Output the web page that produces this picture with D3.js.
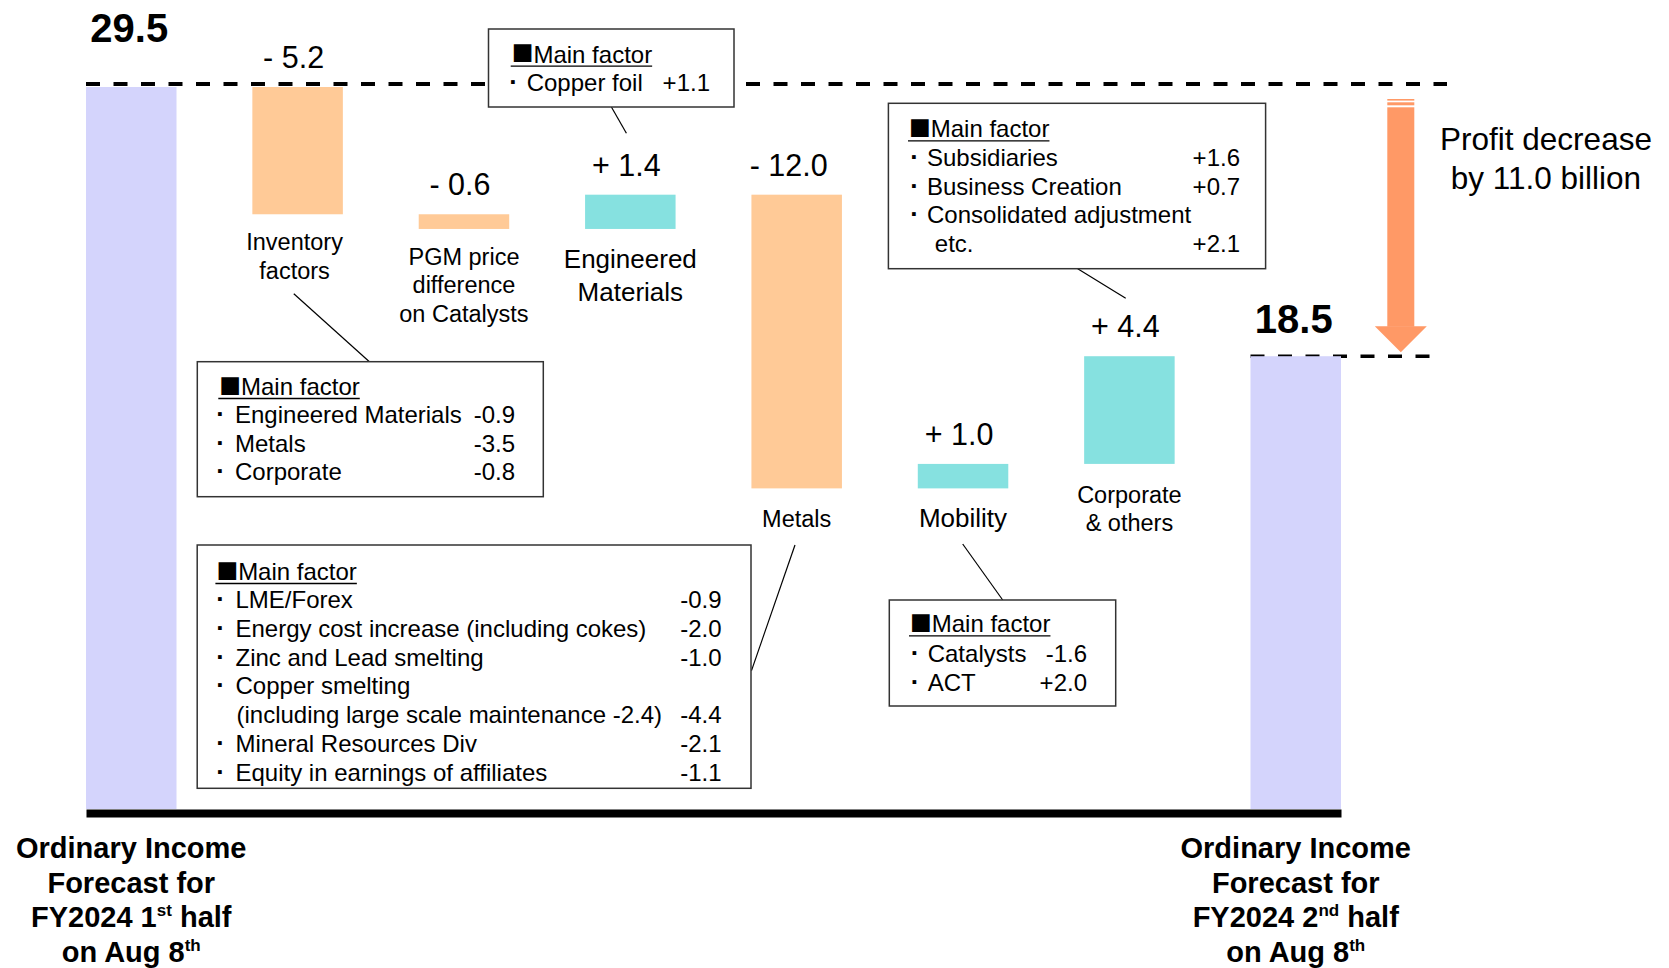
<!DOCTYPE html>
<html><head><meta charset="utf-8">
<script src="https://cdn.jsdelivr.net/npm/d3@7"></script>
<style>
html,body{margin:0;padding:0;background:#fff;}
svg{display:block;}
text{font-family:"Liberation Sans",Arial,Helvetica,sans-serif;fill:#000;}
</style>
</head><body>
<svg id="chart" width="1669" height="968"></svg>
<script>
// ---------------- DATA ----------------
const categories = ["Start", "Inventory factors", "PGM price difference on Catalysts", "Engineered Materials", "Metals", "Mobility", "Corporate & others", "End"];
const categoryLines = [
  null,
  ["Inventory", "factors"],
  ["PGM price", "difference", "on Catalysts"],
  ["Engineered", "Materials"],
  ["Metals"],
  ["Mobility"],
  ["Corporate", "& others"],
  null
];
const values = [29.5, -5.2, -0.6, 1.4, -12.0, 1.0, 4.4, 18.5];
const barTypes = ["total", "delta", "delta", "delta", "delta", "delta", "delta", "total"];
const totalLabelLines = [
  [[["Ordinary Income"]], [["Forecast for"]], [["FY2024 1"], ["st", "sup"], [" half"]], [["on Aug 8"], ["th", "sup"]]],
  [[["Ordinary Income"]], [["Forecast for"]], [["FY2024 2"], ["nd", "sup"], [" half"]], [["on Aug 8"], ["th", "sup"]]]
];
const factorsCopperFoil = [{item: "Copper foil", value: "+1.1"}];
const factorsInventory = [
  {item: "Engineered Materials", value: "-0.9"},
  {item: "Metals", value: "-3.5"},
  {item: "Corporate", value: "-0.8"}
];
const factorsMetals = [
  {item: "LME/Forex", value: "-0.9"},
  {item: "Energy cost increase (including cokes)", value: "-2.0"},
  {item: "Zinc and Lead smelting", value: "-1.0"},
  {item: "Copper smelting", value: ""},
  {item: "(including large scale maintenance -2.4)", value: "-4.4", cont: true},
  {item: "Mineral Resources Div", value: "-2.1"},
  {item: "Equity in earnings of affiliates", value: "-1.1"}
];
const factorsCorporate = [
  {item: "Subsidiaries", value: "+1.6"},
  {item: "Business Creation", value: "+0.7"},
  {item: "Consolidated adjustment", value: ""},
  {item: "etc.", value: "+2.1", cont: true}
];
const factorsMobility = [
  {item: "Catalysts", value: "-1.6"},
  {item: "ACT", value: "+2.0"}
];
const factorMark = "\u25A0";
const factorTitle = "Main factor";
const bulletMark = "\u00B7";

// ---------------- STYLE / LAYOUT ----------------
const colors = {total: "#D4D4FC", neg: "#FFCA97", pos: "#86E1E0", arrow: "#FF9966"};

const svg = d3.select("#chart");
const x = d3.scaleBand().domain(categories).range([86, 1341]).paddingInner(0.456).paddingOuter(0);
const y = d3.scaleLinear().domain([0, 29.5]).range([809, 87]);
const cx = c => x(c) + x.bandwidth() / 2;

// waterfall extents
let run = 0;
const bars = categories.map((c, i) => {
  const v = values[i];
  let lo, hi;
  if (barTypes[i] === "total") { lo = 0; hi = v; run = v; }
  else { const prev = run; run = +(run + v).toFixed(4); lo = Math.min(prev, run); hi = Math.max(prev, run); }
  return {c, i, v, lo, hi, type: barTypes[i]};
});

// dashed reference lines
const startTop = y(values[0]);
const endTop = y(values[7]);
svg.append("line").attr("x1", x(categories[0])).attr("x2", 1447)
  .attr("y1", startTop - 3).attr("y2", startTop - 3)
  .attr("stroke", "#000").attr("stroke-width", 4).attr("stroke-dasharray", "14 13.5");
svg.append("line").attr("x1", x(categories[7])).attr("x2", 1432)
  .attr("y1", endTop).attr("y2", endTop)
  .attr("stroke", "#000").attr("stroke-width", 3.4).attr("stroke-dasharray", "14 13.5");

// bars
svg.append("g").selectAll("rect").data(bars).join("rect")
  .attr("x", d => x(d.c)).attr("width", x.bandwidth())
  .attr("y", d => y(d.hi)).attr("height", d => y(d.lo) - y(d.hi))
  .attr("fill", d => d.type === "total" ? colors.total : (d.v < 0 ? colors.neg : colors.pos));

// baseline axis
const axis = svg.append("g").attr("transform", `translate(0,${y(0) + 4})`)
  .call(d3.axisBottom(x).tickSize(0).tickSizeOuter(0).tickFormat(""));
axis.select(".domain").attr("stroke", "#000").attr("stroke-width", 8);

// value labels
const fmt = d3.format(".1f");
bars.forEach(d => {
  if (d.type === "total") {
    svg.append("text").attr("x", cx(d.c) - 2).attr("y", y(d.hi) - (d.i === 0 ? 45 : 23.5))
      .attr("text-anchor", "middle").attr("font-weight", "bold").attr("font-size", 40)
      .text(fmt(d.v));
  } else {
    svg.append("text").attr("x", cx(d.c) - (Math.abs(d.v) >= 10 ? 8 : 4)).attr("y", y(d.hi) - 19)
      .attr("text-anchor", "middle").attr("font-size", 30.5)
      .text((d.v < 0 ? "- " : "+ ") + fmt(Math.abs(d.v)));
  }
});

// category labels (below delta bars)
bars.forEach(d => {
  const lines = categoryLines[d.i];
  if (!lines) return;
  const big = (d.c === "Engineered Materials" || d.c === "Mobility");
  const fs = big ? 26 : 23.5, lh = big ? 32.7 : 28.5;
  const off = big ? 39 : (d.lo < 20 ? 39 : 36);
  const t = svg.append("text").attr("text-anchor", "middle").attr("font-size", fs);
  lines.forEach((ln, k) => t.append("tspan").attr("x", cx(d.c) - (d.i === 1 ? 3 : 0)).attr("y", y(d.lo) + off + k * lh).text(ln));
});

// total labels at bottom
[0, 7].forEach((idx, j) => {
  const lines = totalLabelLines[j];
  lines.forEach((segs, k) => {
    const t = svg.append("text").attr("text-anchor", "middle").attr("font-weight", "bold")
      .attr("font-size", 29).attr("x", cx(categories[idx])).attr("y", y(0) + 49 + k * 34.7);
    let raised = false;
    segs.forEach(s => {
      const ts = t.append("tspan").text(s[0]);
      if (s[1] === "sup") { ts.attr("font-size", 17).attr("dy", -11); raised = true; }
      else if (raised) { ts.attr("dy", 11); raised = false; }
    });
  });
});

// arrow
const ax = 1400.8, shaftW = 27, headW = 52, headH = 26;
const aTop = startTop + 12, aTip = endTop - 4;
const ag = svg.append("g").attr("fill", colors.arrow);
ag.append("rect").attr("x", ax - shaftW / 2).attr("width", shaftW).attr("y", aTop).attr("height", 1.6);
ag.append("rect").attr("x", ax - shaftW / 2).attr("width", shaftW).attr("y", aTop + 3.3).attr("height", 3);
ag.append("rect").attr("x", ax - shaftW / 2).attr("width", shaftW).attr("y", aTop + 8.3).attr("height", aTip - headH - aTop - 8.3 + 0.5);
ag.append("path").attr("d", `M${ax - headW / 2},${aTip - headH}L${ax + headW / 2},${aTip - headH}L${ax},${aTip}Z`);

const diff = fmt(values[0] - values[7]);
const pt = svg.append("text").attr("text-anchor", "middle").attr("font-size", 31.5);
pt.append("tspan").attr("x", 1546).attr("y", 150).text("Profit decrease");
pt.append("tspan").attr("x", 1546).attr("y", 189).text(`by ${diff} billion`);

// leader lines
const leaders = [
  [611.4, 107, 626.4, 133.3],
  [293.8, 293.8, 369.4, 361.7],
  [795, 545, 751.5, 670.6],
  [1077.7, 268.7, 1125.7, 298.3],
  [962.7, 544, 1002.7, 600]
];
svg.append("g").selectAll("line").data(leaders).join("line")
  .attr("x1", d => d[0]).attr("y1", d => d[1]).attr("x2", d => d[2]).attr("y2", d => d[3])
  .attr("stroke", "#000").attr("stroke-width", 1.2);

// factor boxes
const boxes = [
  {rows: factorsCopperFoil, x: 488.5, y: 29, w: 245.5, h: 78, titleX: 511.7, titleY: 62.7, rowY0: 90.7, dy: 28.4, bulletX: 513.5, textX: 526.7, indentX: 526.7, valueX: 710},
  {rows: factorsInventory, x: 197.3, y: 361.7, w: 346, h: 135, titleX: 219.3, titleY: 395, rowY0: 423.3, dy: 28.35, bulletX: 220.5, textX: 235, indentX: 235, valueX: 515},
  {rows: factorsMetals, x: 197.2, y: 545, w: 553.8, h: 243.3, titleX: 216.4, titleY: 580, rowY0: 608.3, dy: 28.7, bulletX: 220.5, textX: 235.5, indentX: 236.5, valueX: 721.5},
  {rows: factorsCorporate, x: 888.4, y: 103.3, w: 377.2, h: 165.4, titleX: 909, titleY: 137.3, rowY0: 166, dy: 28.6, bulletX: 914.5, textX: 927, indentX: 934.8, valueX: 1240},
  {rows: factorsMobility, x: 889.3, y: 600, w: 226.4, h: 106, titleX: 910, titleY: 632.3, rowY0: 661.7, dy: 29, bulletX: 915, textX: 927.7, indentX: 927.7, valueX: 1087}
];
boxes.forEach(b => {
  const g = svg.append("g");
  g.append("rect").attr("x", b.x).attr("y", b.y).attr("width", b.w).attr("height", b.h)
    .attr("fill", "#fff").attr("stroke", "#333").attr("stroke-width", 1.5);
  const tt = g.append("text").attr("x", b.titleX).attr("y", b.titleY).attr("font-size", 24);
  tt.append("tspan").style("font-family", '"DejaVu Sans",sans-serif').attr("font-size", 23).attr("dy", -3.5).text(factorMark);
  tt.append("tspan").attr("dy", 3.5).text(factorTitle);
  const tw = tt.node().getComputedTextLength();
  g.append("line").attr("x1", b.titleX - 1).attr("x2", b.titleX + tw).attr("y1", b.titleY + 3.5).attr("y2", b.titleY + 3.5)
    .attr("stroke", "#000").attr("stroke-width", 1.3);
  b.rows.forEach((r, k) => {
    const ry = b.rowY0 + k * b.dy;
    if (!r.cont) {
      g.append("text").attr("x", b.bulletX).attr("y", ry).attr("text-anchor", "middle")
        .attr("font-size", 26).attr("font-weight", "bold").text(bulletMark);
    }
    g.append("text").attr("x", r.cont ? b.indentX : b.textX).attr("y", ry).attr("font-size", 24).text(r.item);
    if (r.value) g.append("text").attr("x", b.valueX).attr("y", ry).attr("text-anchor", "end").attr("font-size", 24).text(r.value);
  });
});
</script>
</body></html>
